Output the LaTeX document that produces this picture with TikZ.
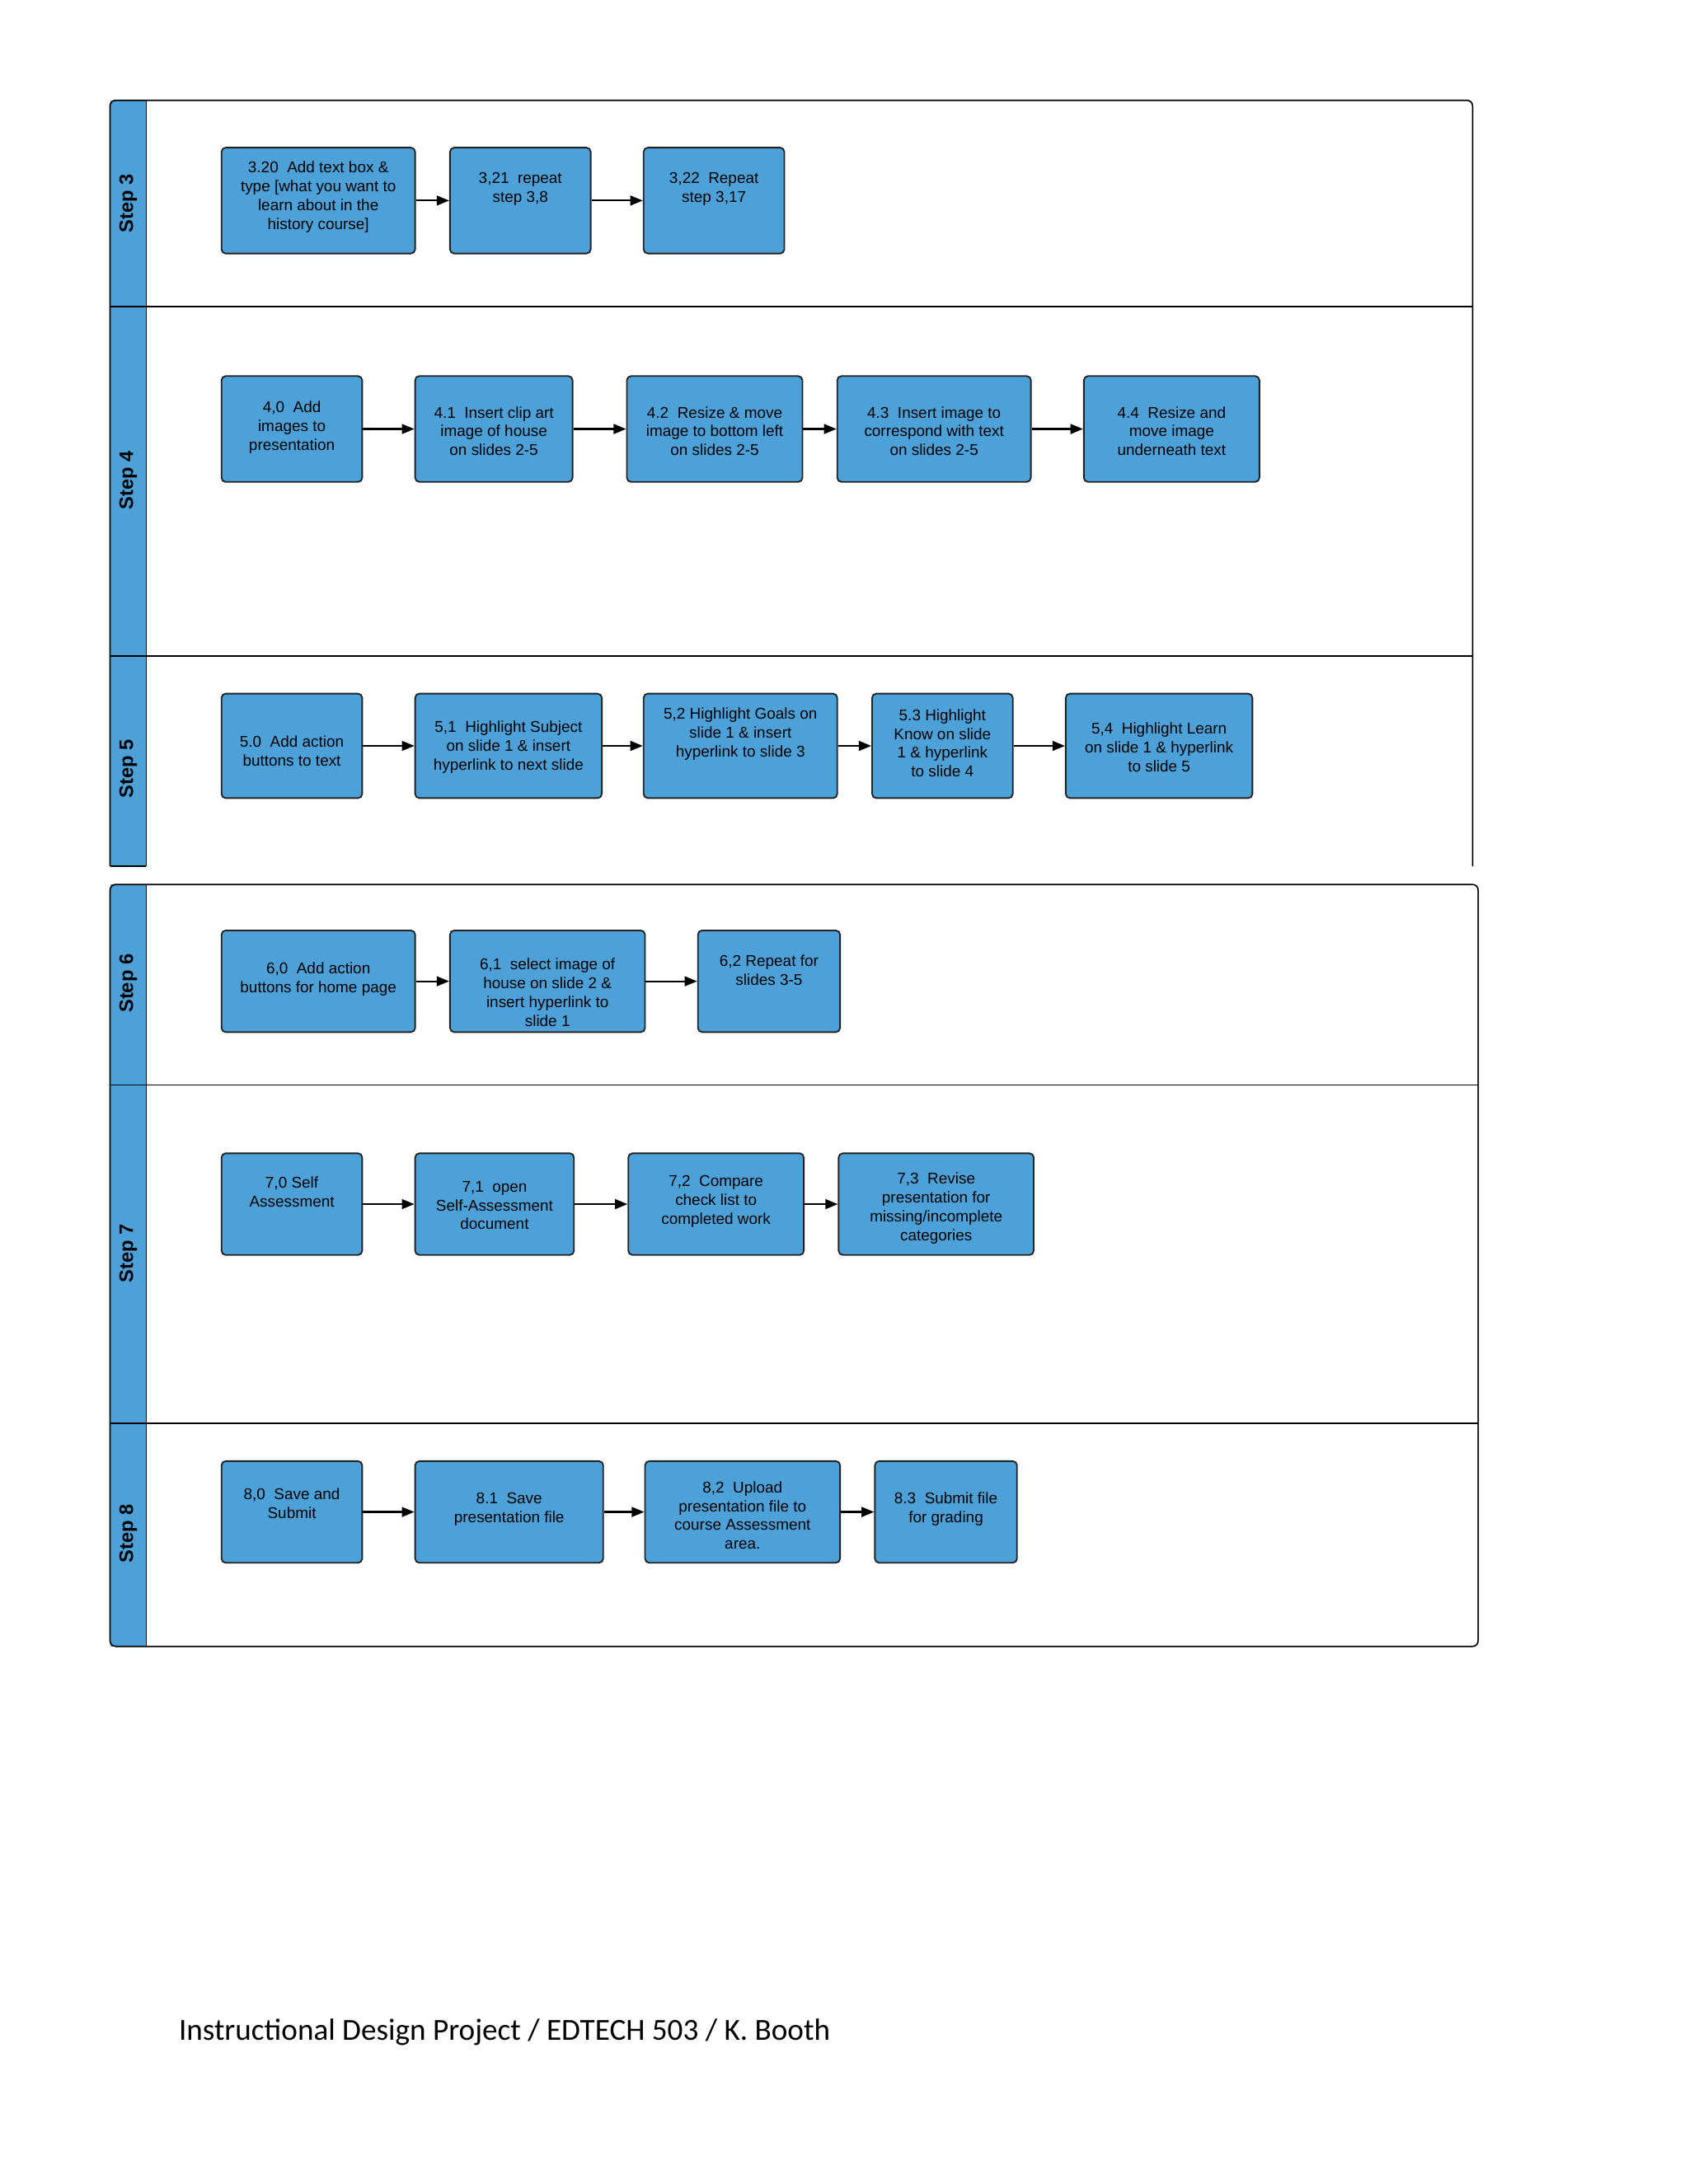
\documentclass[tikz,border=0pt]{standalone}
\usepackage{fontspec}
\setmainfont{Liberation Sans}
\newfontfamily\footfont{Carlito}
\usetikzlibrary{arrows.meta}
\definecolor{laneblue}{RGB}{76,161,217}
\definecolor{boxedge}{RGB}{34,34,34}

\begin{document}
\begin{tikzpicture}[x=0.5pt, y=-0.5pt,
  stepbox/.style={draw=boxedge, line width=0.55pt, fill=laneblue, rounded corners=1.5pt, inner sep=0pt},
  boxsize/.style 2 args={minimum width=#1*0.5pt, minimum height=#2*0.5pt},
  boxtext/.style={font=\fontsize{5.6}{6.75}\selectfont, align=center, inner sep=0pt},
  lanetitle/.style={font=\fontsize{7}{8}\selectfont\bfseries, rotate=90, inner sep=0pt},
  poolline/.style={draw=black, line width=0.5pt},
  flow/.style={-{Triangle[length=4.5pt,width=3.5pt]}, line width=0.65pt}]

% Page size
\useasboundingbox[fill=white] (0,0) rectangle (1212,1568);

% Upper pool: steps 3 to 5
\fill[laneblue] (79,72) rectangle (105,622);
\draw[poolline, rounded corners=2pt] (79,622) -- (79,72) -- (1057,72) -- (1057,622);
\draw[poolline] (105,72) -- (105,622);
\draw[poolline] (79,622) -- (105,622);
\draw[poolline] (79,220) -- (1057,220);
\draw[poolline] (79,471) -- (1057,471);

% Lower pool: steps 6 to 8
\fill[laneblue] (79,635) rectangle (105,1182);
\draw[poolline, rounded corners=2pt] (79,635) rectangle (1061,1182);
\draw[poolline] (105,635) -- (105,1182);
\draw[poolline] (79,779) -- (1061,779);
\draw[poolline] (79,1022) -- (1061,1022);

% Lane titles
\node[lanetitle] (l3) at (92,146) {Step 3};
\node[lanetitle] (l4) at (92,345) {Step 4};
\node[lanetitle] (l5) at (92,552) {Step 5};
\node[lanetitle] (l6) at (92,706) {Step 6};
\node[lanetitle] (l7) at (92,900) {Step 7};
\node[lanetitle] (l8) at (92,1101) {Step 8};

% Step 3
\node[stepbox, boxsize={139}{76}] (b320) at (228.5,144) {};
\node[stepbox, boxsize={101}{76}] (b321) at (373.5,144) {};
\node[stepbox, boxsize={101}{76}] (b322) at (512.5,144) {};
\node[boxtext] (t320) at (228.5,141.5) {3.20~ Add text box \&\\type [what you want to\\learn about in the\\history course]};
\node[boxtext] (t321) at (373.5,135.5) {3,21~ repeat\\step 3,8};
\node[boxtext] (t322) at (512.5,135.5) {3,22~ Repeat\\step 3,17};
\draw[flow] (b320) -- (b321);
\draw[flow] (b321) -- (b322);

% Step 4
\node[stepbox, boxsize={101}{76}] (b40) at (209.5,308) {};
\node[stepbox, boxsize={113}{76}] (b41) at (354.5,308) {};
\node[stepbox, boxsize={126}{76}] (b42) at (513,308) {};
\node[stepbox, boxsize={139}{76}] (b43) at (670.5,308) {};
\node[stepbox, boxsize={126}{76}] (b44) at (841,308) {};
\node[boxtext] (t40) at (209.5,307) {4,0~ Add\\images to\\presentation};
\node[boxtext] (t41) at (354.5,309.5) {4.1~ Insert clip art\\image of house\\on slides 2-5};
\node[boxtext] (t42) at (513,309.5) {4.2~ Resize \& move\\image to bottom left\\on slides 2-5};
\node[boxtext] (t43) at (670.5,309.5) {4.3~ Insert image to\\correspond with text\\on slides 2-5};
\node[boxtext] (t44) at (841,309.5) {4.4~ Resize and\\move image\\underneath text};
\draw[flow] (b40) -- (b41);
\draw[flow] (b41) -- (b42);
\draw[flow] (b42) -- (b43);
\draw[flow] (b43) -- (b44);

% Step 5
\node[stepbox, boxsize={101}{75}] (b50) at (209.5,535.5) {};
\node[stepbox, boxsize={134}{75}] (b51) at (365,535.5) {};
\node[stepbox, boxsize={139}{75}] (b52) at (531.5,535.5) {};
\node[stepbox, boxsize={101}{75}] (b53) at (676.5,535.5) {};
\node[stepbox, boxsize={134}{75}] (b54) at (832,535.5) {};
\node[boxtext] (t50) at (209.5,539) {5.0~ Add action\\buttons to text};
\node[boxtext] (t51) at (365,536.5) {5,1~ Highlight Subject\\on slide 1 \& insert\\hyperlink to next slide};
\node[boxtext] (t52) at (531.5,527) {5,2 Highlight Goals on\\slide 1 \& insert\\hyperlink to slide 3};
\node[boxtext] (t53) at (676.5,533.5) {5.3 Highlight\\Know on slide\\1 \& hyperlink\\to slide 4};
\node[boxtext] (t54) at (832,536.5) {5,4~ Highlight Learn\\on slide 1 \& hyperlink\\to slide 5};
\draw[flow] (b50) -- (b51);
\draw[flow] (b51) -- (b52);
\draw[flow] (b52) -- (b53);
\draw[flow] (b53) -- (b54);

% Step 6
\node[stepbox, boxsize={139}{73}] (b60) at (228.5,704.5) {};
\node[stepbox, boxsize={140}{73}] (b61) at (393,704.5) {};
\node[stepbox, boxsize={102}{73}] (b62) at (552,704.5) {};
\node[boxtext] (t60) at (228.5,703) {6,0~ Add action\\buttons for home page};
\node[boxtext] (t61) at (393,712.5) {6,1~ select image of\\house on slide 2 \&\\insert hyperlink to\\slide 1};
\node[boxtext] (t62) at (552,696.5) {6,2 Repeat for\\slides 3-5};
\draw[flow] (b60) -- (b61);
\draw[flow] (b61) -- (b62);

% Step 7
\node[stepbox, boxsize={101}{73}] (b70) at (209.5,864.5) {};
\node[stepbox, boxsize={114}{73}] (b71) at (355,864.5) {};
\node[stepbox, boxsize={126}{73}] (b72) at (514,864.5) {};
\node[stepbox, boxsize={140}{73}] (b73) at (672,864.5) {};
\node[boxtext] (t70) at (209.5,855.5) {7,0 Self\\Assessment};
\node[boxtext] (t71) at (355,865.5) {7,1~ open\\Self-Assessment\\document};
\node[boxtext] (t72) at (514,862.5) {7,2~ Compare\\check list to\\completed work};
\node[boxtext] (t73) at (672,867.5) {7,3~ Revise\\presentation for\\missing/incomplete\\categories};
\draw[flow] (b70) -- (b71);
\draw[flow] (b71) -- (b72);
\draw[flow] (b72) -- (b73);

% Step 8
\node[stepbox, boxsize={101}{73}] (b80) at (209.5,1085.5) {};
\node[stepbox, boxsize={135}{73}] (b81) at (365.5,1085.5) {};
\node[stepbox, boxsize={140}{73}] (b82) at (533,1085.5) {};
\node[stepbox, boxsize={102}{73}] (b83) at (679,1085.5) {};
\node[boxtext] (t80) at (209.5,1079.5) {8,0~ Save and\\Submit};
\node[boxtext] (t81) at (365.5,1083.5) {8.1~ Save\\presentation file};
\node[boxtext] (t82) at (533,1088) {8,2~ Upload\\presentation file to\\course Assessment\\area.};
\node[boxtext] (t83) at (679,1083.5) {8.3~ Submit file\\for grading};
\draw[flow] (b80) -- (b81);
\draw[flow] (b81) -- (b82);
\draw[flow] (b82) -- (b83);

% Footer
\node[anchor=base west, inner sep=0pt, font=\footfont\fontsize{11}{13}\selectfont] (foot) at (128,1465) {Instructional Design Project / EDTECH 503 / K. Booth};
\end{tikzpicture}
\end{document}
